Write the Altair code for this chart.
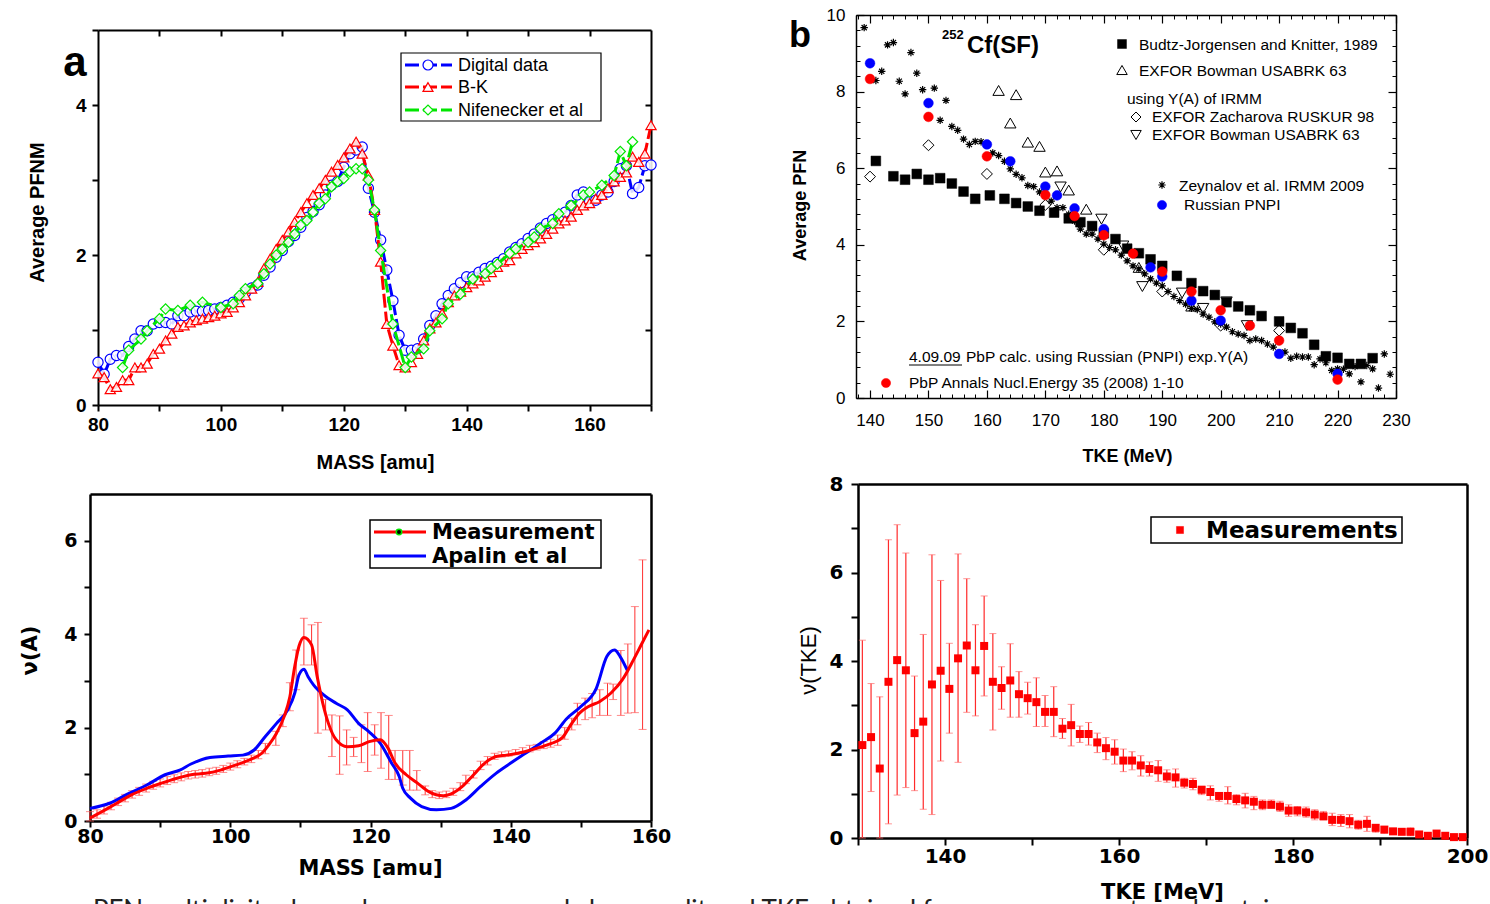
import altair as alt
import pandas as pd

W, H = 1490, 904
ARIAL = "Liberation Sans"
WIDE = "DejaVu Sans"
BLUE, RED, GREEN = "#0000ff", "#ff0000", "#00e600"

# ---------------- (a) average PFNM vs mass ----------------
a_dig_mass = list(range(80, 171))
a_dig_nu = [0.57, 0.41, 0.61, 0.66, 0.66, 0.78, 0.88, 0.99, 0.99, 1.08,
            1.10, 1.10, 1.08, 1.19, 1.19, 1.24, 1.25, 1.25, 1.26, 1.28,
            1.30, 1.33, 1.37, 1.42, 1.50, 1.56, 1.60, 1.73, 1.84, 1.97,
            2.06, 2.18, 2.26, 2.37, 2.50, 2.58, 2.67, 2.80, 2.93, 2.98,
            3.17, 3.35, 3.40, 3.44, 2.89, 2.57, 2.20, 1.80, 1.39, 0.93,
            0.73, 0.73, 0.75, 0.88, 1.06, 1.19, 1.35, 1.46, 1.55, 1.63,
            1.71, 1.71, 1.77, 1.82, 1.85, 1.90, 1.95, 2.04, 2.10, 2.15,
            2.22, 2.28, 2.36, 2.42, 2.47, 2.51, 2.57, 2.66, 2.80, 2.84,
            2.71, 2.73, 2.80, 2.84, 2.98, 3.15, 3.19, 2.82, 2.90, 3.19,
            3.20]
a_bk_mass = list(range(80, 171))
a_bk_nu = [0.42, 0.37, 0.21, 0.24, 0.33, 0.33, 0.50, 0.50, 0.55, 0.68,
           0.75, 0.86, 0.95, 1.04, 1.06, 1.10, 1.13, 1.15, 1.17, 1.19,
           1.22, 1.24, 1.30, 1.37, 1.46, 1.55, 1.64, 1.82, 1.95, 2.08,
           2.20, 2.31, 2.44, 2.57, 2.69, 2.80, 2.89, 3.00, 3.11, 3.20,
           3.30, 3.42, 3.51, 3.35, 3.06, 2.60, 1.91, 1.08, 0.79, 0.53,
           0.50, 0.57, 0.68, 0.86, 1.02, 1.10, 1.22, 1.37, 1.46, 1.51,
           1.57, 1.62, 1.66, 1.71, 1.77, 1.84, 1.91, 1.93, 2.02, 2.08,
           2.13, 2.17, 2.22, 2.28, 2.35, 2.42, 2.46, 2.51, 2.60, 2.66,
           2.69, 2.75, 2.80, 2.89, 2.98, 3.04, 3.10, 3.31, 3.24, 3.35,
           3.73]
a_nif_mass = [84, 85, 87, 88, 90, 91, 93, 95, 97, 100, 102, 103, 104, 106, 107, 108,
              109, 110, 111, 112, 113, 114, 115, 116, 117, 118, 119, 120, 121, 122,
              123, 124, 125, 126, 128, 130, 131, 133, 134, 136, 137, 139, 141, 143,
              144, 145, 147, 148, 150, 151, 152, 154, 155, 157, 159, 160, 162, 164,
              165, 166, 167]
a_nif_nu = [0.50, 0.73, 0.88, 0.99, 1.15, 1.28, 1.26, 1.33, 1.37, 1.30, 1.35, 1.46,
            1.55, 1.62, 1.75, 1.88, 2.00, 2.08, 2.17, 2.28, 2.40, 2.46, 2.57, 2.69,
            2.75, 2.91, 2.98, 3.02, 3.11, 3.15, 3.15, 3.00, 2.60, 2.06, 1.08, 0.50,
            0.64, 0.75, 0.99, 1.15, 1.35, 1.48, 1.68, 1.75, 1.82, 1.88, 2.02, 2.08,
            2.17, 2.24, 2.35, 2.42, 2.55, 2.66, 2.80, 2.84, 2.93, 3.06, 3.38, 3.19,
            3.51]

# ---------------- (b) average PFN vs TKE ----------------
b_bj_tke = [141, 144, 146, 148, 150, 152, 154, 156, 158, 160.5, 163, 165, 167, 169,
            171.5, 174, 176, 178, 180, 182, 184, 186, 188, 190, 192.5, 195, 197, 199,
            201, 203, 205, 207, 210, 212, 214, 216, 218, 220, 222, 224, 226]
b_bj_pfn = [6.19, 5.79, 5.70, 5.85, 5.70, 5.74, 5.60, 5.39, 5.20, 5.29, 5.20, 5.09,
            5.00, 4.89, 4.84, 4.69, 4.59, 4.49, 4.30, 4.15, 3.90, 3.78, 3.62, 3.45,
            3.19, 3.00, 2.79, 2.69, 2.50, 2.39, 2.29, 2.14, 2.00, 1.83, 1.69, 1.39,
            1.09, 1.05, 0.89, 0.89, 1.04]
b_bow_tke = [162, 165, 164, 167, 169, 170, 172, 174, 177, 186, 195]
b_bow_pfn = [8.03, 7.92, 7.18, 6.68, 6.57, 5.90, 5.93, 5.43, 4.93, 3.41, 2.40]
b_zach_tke = [140, 150, 160, 170, 180, 190, 200, 210]
b_zach_pfn = [5.78, 6.60, 5.85, 5.04, 3.87, 2.78, 1.89, 1.76]
b_bowy_tke = [172.6, 179.6, 183.3, 186.6, 193.4, 197, 201, 204.5]
b_bowy_pfn = [5.51, 4.67, 3.97, 2.91, 2.74, 2.34, 2.51, 1.89]
b_zey_tke = [139, 141, 142, 143, 144, 145, 146, 147, 148, 149,
             151, 152, 153, 154, 155, 156, 157, 158, 159,
             161, 162, 163, 164, 165, 166, 167, 168, 169, 170,
             171, 172, 173, 174, 175, 176, 177, 178, 179, 180,
             181, 182, 183, 184, 185, 186, 187, 188, 189, 190,
             191, 192, 193, 194, 195, 196, 197, 198, 199, 200,
             201, 202, 203, 204, 205, 206, 207, 208, 209,
             211, 212, 213, 214, 215, 216, 217, 218, 219, 220,
             221, 222, 223, 224, 225, 226, 227, 228, 229]
b_zey_pfn = [9.67, 8.29, 8.53, 9.22, 9.28, 8.27, 7.94, 9.02, 8.48, 8.05,
             8.09, 7.25, 7.77, 7.09, 6.99, 6.76, 6.62, 6.70, 6.69,
             6.40, 6.33, 6.18, 5.98, 5.84, 5.75, 5.55, 5.52, 5.38, 5.27,
             5.14, 4.97, 4.97, 4.80, 4.62, 4.41, 4.28, 4.28, 4.15, 4.02,
             3.93, 3.87, 3.73, 3.58, 3.45, 3.37, 3.24, 3.11, 3.00, 2.93,
             2.78, 2.65, 2.54, 2.45, 2.34, 2.31, 2.19, 2.11, 1.99, 1.93,
             1.85, 1.73, 1.67, 1.63, 1.50, 1.54, 1.50, 1.41, 1.33,
             1.20, 1.04, 1.09, 1.07, 1.07, 0.87, 1.02, 0.92, 0.72, 0.76,
             0.75, 0.63, 0.82, 0.42, 0.85, 0.76, 0.26, 1.15, 0.62]
b_pnpi_tke = [140, 150, 160, 164, 170, 172, 175, 180, 188, 190, 195, 200, 210, 220]
b_pnpi_pfn = [8.74, 7.70, 6.62, 6.18, 5.52, 5.29, 4.95, 4.41, 3.41, 3.17, 2.54, 2.02, 1.15, 0.63]
b_pbp_tke = [140, 150, 160, 170, 175, 180, 185, 190, 195, 200, 205, 210, 220]
b_pbp_pfn = [8.33, 7.34, 6.31, 5.30, 4.75, 4.25, 3.77, 3.30, 2.78, 2.29, 1.89, 1.50, 0.48]

# ---------------- (c) nu(A) ----------------
c_meas_mass = [80, 81.7, 83.8, 85.9, 88.1, 90.2, 92.3, 94.4, 96.5, 98.6, 100.8, 102.9,
               104.5, 105.5, 106.6, 107.7, 108.5, 109.2, 109.8, 110.5, 111.6, 112.4,
               113.2, 114, 115.1, 116.7, 118.3, 119.8, 121.4, 122.5, 123.5, 125.1,
               126.7, 128.3, 130.4, 131.5, 133.1, 134.7, 136.3, 137.9, 139.4, 141,
               142.6, 144.2, 145.8, 147.4, 148.4, 149.8, 151.1, 152.7, 154.3, 155.9,
               157.5, 158.5, 159.7]
c_meas_nu = [0.06, 0.2, 0.38, 0.56, 0.7, 0.81, 0.91, 0.99, 1.02, 1.09, 1.2, 1.32, 1.45,
             1.63, 1.88, 2.24, 2.66, 3.31, 3.74, 3.93, 3.77, 3.09, 2.52, 2.09, 1.74,
             1.59, 1.61, 1.7, 1.74, 1.56, 1.24, 0.99, 0.81, 0.63, 0.54, 0.58, 0.74,
             0.99, 1.24, 1.38, 1.41, 1.45, 1.51, 1.58, 1.66, 1.79, 2.02, 2.31, 2.45,
             2.56, 2.74, 3.02, 3.45, 3.74, 4.09]
c_err_mass = [80, 81, 82, 83, 84, 85, 86, 87, 88, 89, 90, 91, 92, 93, 94, 95, 96, 97, 98,
              99, 100, 101, 102, 103, 104, 105, 106.5, 107.5, 108.5, 109.4, 110.5, 111.6,
              112.5, 113.6, 114.5, 115.6, 116.6, 117.6, 118.7, 119.6, 120.6, 121.5, 122.6,
              123.5, 124.6, 125.6, 126.6, 127.8, 128.8, 129.8, 130.8, 131.8, 132.8, 133.6,
              134.7, 135.7, 136.7, 137.7, 138.7, 139.7, 140.7, 141.7, 142.7, 143.7, 144.7,
              145.7, 146.7, 147.7, 148.7, 149.5, 150.6, 151.6, 152.7, 153.8, 154.6, 155.7,
              156.7, 157.7, 158.8]
c_err_lo = [0.00, 0.06, 0.15, 0.24, 0.33, 0.41, 0.49, 0.55, 0.62, 0.68, 0.73, 0.78, 0.82,
            0.86, 0.90, 0.92, 0.94, 0.97, 1.00, 1.04, 1.09, 1.14, 1.20, 1.25, 1.33, 1.44,
            1.62, 2.02, 2.36, 2.81, 3.34, 3.34, 1.88, 1.95, 1.38, 1.00, 1.20, 1.38, 1.25,
            1.06, 1.41, 1.13, 0.89, 0.89, 0.77, 0.66, 0.66, 0.56, 0.50, 0.48, 0.50, 0.55,
            0.65, 0.80, 0.92, 1.10, 1.20, 1.32, 1.37, 1.39, 1.42, 1.45, 1.48, 1.52, 1.55,
            1.58, 1.62, 1.75, 1.95, 2.06, 2.17, 2.21, 2.26, 2.26, 2.60, 2.26, 2.31, 2.32,
            1.96]
c_err_hi = [0.20, 0.24, 0.32, 0.40, 0.49, 0.57, 0.65, 0.72, 0.79, 0.85, 0.90, 0.95, 0.99,
            1.03, 1.06, 1.08, 1.10, 1.13, 1.15, 1.19, 1.24, 1.29, 1.34, 1.41, 1.51, 1.66,
            1.92, 2.27, 2.96, 3.66, 4.34, 4.20, 4.25, 2.60, 2.27, 2.25, 1.95, 1.79, 2.06,
            2.32, 2.06, 2.32, 2.26, 1.51, 1.51, 1.51, 1.08, 0.75, 0.65, 0.62, 0.64, 0.70,
            0.82, 0.98, 1.08, 1.28, 1.38, 1.45, 1.48, 1.50, 1.53, 1.57, 1.62, 1.64, 1.70,
            1.75, 1.84, 2.00, 2.20, 2.52, 2.63, 2.73, 2.81, 2.95, 2.93, 3.65, 3.79, 4.59,
            5.59]
c_ap_mass = [80, 82.8, 85.4, 88.1, 90.7, 92.8, 94.4, 97.1, 99.7, 101.8, 103.4, 105, 106.6,
             108.2, 109.2, 109.8, 110.5, 111.1, 111.9, 113.5, 115.1, 116.7, 118.3, 119.8,
             121.4, 123, 124.1, 124.6, 125.7, 127.3, 129.4, 131.5, 133.6, 135.7, 137.9,
             140, 142.1, 144.2, 146.3, 147.9, 150, 152.2, 153.7, 154.8, 155.6, 156.7]
c_ap_nu = [0.27, 0.38, 0.58, 0.77, 0.99, 1.09, 1.22, 1.36, 1.39, 1.41, 1.52, 1.81, 2.09,
           2.38, 2.74, 3.13, 3.25, 3.09, 2.91, 2.68, 2.52, 2.38, 2.09, 1.91, 1.66, 1.24,
           0.95, 0.70, 0.49, 0.31, 0.24, 0.27, 0.45, 0.74, 1.02, 1.24, 1.45, 1.66, 1.88,
           2.18, 2.45, 2.84, 3.52, 3.66, 3.52, 3.20]

# ---------------- (d) nu(TKE) ----------------
d_tke = [130.5, 131.5, 132.5, 133.5, 134.5, 135.5, 136.5, 137.5, 138.5, 139.5,
         140.5, 141.5, 142.5, 143.5, 144.5, 145.5, 146.5, 147.5, 148.5, 149.5,
         150.5, 151.5, 152.5, 153.5, 154.5, 155.5, 156.5, 157.5, 158.5, 159.5,
         160.5, 161.5, 162.5, 163.5, 164.5, 165.5, 166.5, 167.5, 168.5, 169.5,
         170.5, 171.5, 172.5, 173.5, 174.5, 175.5, 176.5, 177.5, 178.5, 179.5,
         180.5, 181.5, 182.5, 183.5, 184.5, 185.5, 186.5, 187.5, 188.5, 189.5,
         190.5, 191.5, 192.5, 193.5, 194.5, 195.5, 196.5, 197.5, 198.5, 199.5]
d_nu = [2.10, 2.28, 1.57, 3.53, 4.02, 3.79, 2.37, 2.63, 3.47, 3.78,
        3.37, 4.06, 4.35, 3.79, 4.34, 3.53, 3.39, 3.56, 3.25, 3.16,
        3.07, 2.85, 2.85, 2.47, 2.55, 2.35, 2.35, 2.16, 2.03, 1.95,
        1.75, 1.75, 1.64, 1.56, 1.53, 1.39, 1.37, 1.25, 1.22, 1.09,
        1.04, 0.95, 0.95, 0.88, 0.85, 0.82, 0.75, 0.75, 0.71, 0.62,
        0.62, 0.58, 0.53, 0.49, 0.41, 0.41, 0.38, 0.30, 0.32, 0.23,
        0.19, 0.15, 0.14, 0.14, 0.08, 0.05, 0.10, 0.05, 0.02, 0.02]
d_lo = [0.00, 1.05, 0.00, 0.32, 0.97, 1.14, 1.07, 0.65, 0.53, 1.74,
        2.37, 1.71, 2.84, 2.76, 3.21, 2.44, 2.91, 2.73, 2.73, 2.80,
        2.52, 2.52, 2.29, 2.25, 2.08, 2.16, 2.10, 1.93, 1.77, 1.67,
        1.50, 1.54, 1.40, 1.40, 1.28, 1.26, 1.15, 1.13, 1.09, 0.98,
        0.86, 0.83, 0.77, 0.75, 0.68, 0.64, 0.64, 0.68, 0.60, 0.49,
        0.50, 0.47, 0.41, 0.41, 0.28, 0.26, 0.23, 0.20, 0.15, 0.13,
        0.11, 0.09, 0.09, 0.05, 0.02, 0.00, 0.04, 0.00, 0.00, 0.00]
d_hi = [4.47, 3.49, 3.19, 6.74, 7.08, 6.44, 3.66, 4.60, 6.40, 5.82,
        4.40, 6.42, 5.86, 4.82, 5.47, 4.62, 3.87, 4.39, 3.76, 3.52,
        3.62, 3.22, 3.42, 2.70, 3.02, 2.53, 2.61, 2.37, 2.27, 2.22,
        2.01, 1.95, 1.86, 1.72, 1.75, 1.54, 1.56, 1.35, 1.35, 1.17,
        1.18, 1.01, 1.16, 0.98, 1.01, 0.94, 0.86, 0.86, 0.83, 0.75,
        0.71, 0.70, 0.64, 0.60, 0.56, 0.53, 0.53, 0.40, 0.49, 0.30,
        0.26, 0.20, 0.19, 0.23, 0.13, 0.10, 0.17, 0.11, 0.05, 0.04]

# ---------------- layout of the four panels (pixel ranges) ----------------
PAN = {
    "a": dict(xd=[80, 170], yd=[0, 5], xr=[98, 651], yr=[405, 30]),
    "b": dict(xd=[137.6, 230], yd=[0, 10], xr=[856, 1396], yr=[398, 15]),
    "c": dict(xd=[80, 160], yd=[0, 7], xr=[90, 651], yr=[821, 494]),
    "d": dict(xd=[130, 200], yd=[0, 8], xr=[858, 1467], yr=[838, 484]),
}


def xs(p):
    P = PAN[p]
    return alt.Scale(domain=P["xd"], range=P["xr"], nice=False, zero=False)


def ys(p):
    P = PAN[p]
    return alt.Scale(domain=P["yd"], range=P["yr"], nice=False, zero=False)


def XQ(f, p):
    return alt.X(f, type="quantitative", scale=xs(p), axis=None)


def YQ(f, p):
    return alt.Y(f, type="quantitative", scale=ys(p), axis=None)


EVEN20 = "datum.value % 20 == 0 ? datum.label : ''"
EVEN2 = "datum.value % 2 == 0 ? datum.label : ''"


def axis(orient, pos, values=None, tick=0, tickw=1.0, labels=False, domain=False,
         domw=1.0, lfont=ARIAL, lsize=17, lweight="normal", lpad=4, lexpr=None,
         title=None, tpos=(0, 0), tfont=ARIAL, tsize=18, tweight="bold"):
    if orient == "bottom":
        off = pos - H
    elif orient in ("top", "left"):
        off = -pos
    else:
        off = pos - W
    kw = dict(orient=orient, offset=off, grid=False, domain=domain,
              ticks=tick > 0, tickSize=tick, tickWidth=tickw, tickColor="black",
              domainColor="black", domainWidth=domw, labels=labels,
              labelFont=lfont, labelFontSize=lsize, labelFontWeight=lweight,
              labelColor="black", labelPadding=lpad, labelFlush=False,
              labelOverlap=False)
    if values is not None:
        kw["values"] = values
    if lexpr:
        kw["labelExpr"] = lexpr
    if title:
        if orient in ("bottom", "top"):
            tx, ty, ang = tpos[0], tpos[1] - pos, 0
        else:
            tx, ty, ang = tpos[0] - pos, tpos[1], 270
        kw.update(title=title, titleX=tx, titleY=ty, titleAngle=ang,
                  titleAlign="center", titleBaseline="middle", titleFont=tfont,
                  titleFontSize=tsize, titleFontWeight=tweight, titleColor="black")
    else:
        kw["title"] = None
    return alt.Axis(**kw)


def frame(p, xaxis, yaxis):
    P = PAN[p]
    d = pd.DataFrame({"fx": P["xd"], "fy": P["yd"]})
    return alt.Chart(d).mark_point(opacity=0).encode(
        x=alt.X("fx:Q", scale=xs(p), axis=xaxis),
        y=alt.Y("fy:Q", scale=ys(p), axis=yaxis))


ONE = pd.DataFrame({"k": [0]})


def txt(s, x, y, size=15.5, weight="normal", font=ARIAL, align="left",
        baseline="middle", angle=0, color="black"):
    return alt.Chart(ONE).mark_text(
        text=s, fontSize=size, fontWeight=weight, font=font, align=align,
        baseline=baseline, angle=angle, color=color).encode(
        x=alt.value(x), y=alt.value(y))


def glyph(x, y, shape, size, fill, stroke, sw=1.0):
    return alt.Chart(ONE).mark_point(
        shape=shape, size=size, fill=fill, stroke=stroke, strokeWidth=sw,
        filled=False, fillOpacity=1, opacity=1).encode(x=alt.value(x), y=alt.value(y))


def hline(x1, x2, y, color, width, dash=None):
    kw = dict(color=color, strokeWidth=width)
    if dash:
        kw["strokeDash"] = dash
    return alt.Chart(ONE).mark_rule(**kw).encode(
        x=alt.value(x1), x2=alt.value(x2), y=alt.value(y))


def box(x1, y1, x2, y2, sw=1.2):
    return alt.Chart(ONE).mark_rect(fill="white", stroke="black", strokeWidth=sw).encode(
        x=alt.value(x1), x2=alt.value(x2), y=alt.value(y1), y2=alt.value(y2))


ASTER = "M-1,0L1,0M0,-1L0,1M-0.7,-0.7L0.7,0.7M-0.7,0.7L0.7,-0.7"
layers = []

# ================= panel a =================
layers += [
    frame("a",
          axis("bottom", 405, list(range(80, 171, 10)), tick=6, tickw=2, labels=True,
               domain=True, domw=2, lsize=19, lweight="bold", lpad=4, lexpr=EVEN20,
               title="MASS [amu]", tpos=(375, 462), tsize=20),
          axis("left", 98, [0, 1, 2, 3, 4, 5], tick=6, tickw=2, labels=True, domain=True,
               domw=2, lsize=19, lweight="bold", lpad=6, lexpr=EVEN2,
               title="Average PFNM", tpos=(37, 212), tsize=20)),
    frame("a",
          axis("bottom", 30, list(range(90, 170, 10)), tick=6, tickw=2, domain=True, domw=2),
          axis("left", 651, [1, 2, 3, 4], tick=6, tickw=2, domain=True, domw=2)),
]


def a_series(mass, nu, color, shape):
    d = pd.DataFrame({"A": mass, "nu": nu})
    base = alt.Chart(d).encode(x=XQ("A", "a"), y=YQ("nu", "a"))
    return [base.mark_line(color=color, strokeWidth=3, strokeDash=[14, 4]),
            base.mark_point(shape=shape, size=105, fill="white", stroke=color,
                            strokeWidth=1.2, filled=False, fillOpacity=0.85, opacity=1)]


layers += a_series(a_dig_mass, a_dig_nu, BLUE, "circle")
layers += a_series(a_bk_mass, a_bk_nu, RED, "triangle-up")
layers += a_series(a_nif_mass, a_nif_nu, GREEN, "diamond")

layers += [
    box(401, 53, 601, 121),
    hline(405, 452, 65, BLUE, 3, [14, 4]), glyph(428, 65, "circle", 100, "white", BLUE, 1.2),
    hline(405, 452, 87, RED, 3, [14, 4]), glyph(428, 87, "triangle-up", 100, "white", RED, 1.2),
    hline(405, 452, 110, GREEN, 3, [14, 4]), glyph(428, 110, "diamond", 100, "white", GREEN, 1.2),
    txt("Digital data", 458, 66, size=18),
    txt("B-K", 458, 88, size=18),
    txt("Nifenecker et al", 458, 111, size=18),
    txt("a", 75, 76, size=42, weight="bold", align="center", baseline="alphabetic"),
]

# ================= panel b =================
BXM = list(range(140, 231, 10))
BXm = list(range(138, 231, 2))
BYM = list(range(0, 11, 2))
BYm = [round(i * 0.4, 1) for i in range(26)]
layers += [
    frame("b",
          axis("bottom", 398, BXM, labels=True, domain=True, domw=1.5, lsize=17, lpad=14,
               title="TKE (MeV)", tpos=(1127, 456), tsize=18),
          axis("left", 856, BYM, labels=True, domain=True, domw=1.5, lsize=17, lpad=11,
               title="Average PFN", tpos=(800, 205), tsize=18)),
    frame("b", axis("top", 398, BXM, tick=8, tickw=1.2), axis("right", 856, BYM, tick=8, tickw=1.2)),
    frame("b", axis("top", 398, BXm, tick=4), axis("right", 856, BYm, tick=4)),
    frame("b", axis("bottom", 15, BXM, tick=8, tickw=1.2, domain=True, domw=1.5),
          axis("left", 1396, BYM, tick=8, tickw=1.2, domain=True, domw=1.5)),
    frame("b", axis("bottom", 15, BXm, tick=4), axis("left", 1396, BYm, tick=4)),
]


def b_pts(tke, pfn, shape, size, fill, stroke, sw=1.0):
    d = pd.DataFrame({"T": tke, "P": pfn})
    return alt.Chart(d).mark_point(shape=shape, size=size, fill=fill, stroke=stroke,
                                   strokeWidth=sw, filled=False, fillOpacity=1,
                                   opacity=1).encode(x=XQ("T", "b"), y=YQ("P", "b"))


layers += [
    b_pts(b_zey_tke, b_zey_pfn, ASTER, 55, "none", "black", 1.2),
    b_pts(b_bj_tke, b_bj_pfn, "square", 95, "black", "black", 0.5),
    b_pts(b_bow_tke, b_bow_pfn, "triangle-up", 130, "none", "black", 1.0),
    b_pts(b_zach_tke, b_zach_pfn, "diamond", 120, "none", "black", 1.0),
    b_pts(b_bowy_tke, b_bowy_pfn, "triangle-down", 130, "none", "black", 1.0),
    b_pts(b_pnpi_tke, b_pnpi_pfn, "circle", 95, BLUE, BLUE, 0.5),
    b_pts(b_pbp_tke, b_pbp_pfn, "circle", 95, RED, RED, 0.5),
]

layers += [
    txt("b", 800, 47, size=36, weight="bold", align="center", baseline="alphabetic"),
    txt("252", 942, 39, size=13, weight="bold", baseline="alphabetic"),
    txt("Cf(SF)", 967, 53, size=24, weight="bold", baseline="alphabetic"),
    glyph(1122, 44, "square", 80, "black", "black", 0.5),
    txt("Budtz-Jorgensen and Knitter, 1989", 1139, 45),
    glyph(1122, 70, "triangle-up", 110, "none", "black"),
    txt("EXFOR Bowman USABRK 63", 1139, 71),
    txt("using Y(A) of IRMM", 1127, 99),
    glyph(1136, 117, "diamond", 100, "none", "black"),
    txt("EXFOR Zacharova RUSKUR 98", 1152, 117),
    glyph(1136, 135, "triangle-down", 110, "none", "black"),
    txt("EXFOR Bowman USABRK 63", 1152, 135),
    glyph(1162, 185, ASTER, 55, "none", "black", 1.2),
    txt("Zeynalov et al. IRMM 2009", 1179, 186),
    glyph(1162, 205, "circle", 85, BLUE, BLUE, 0.5),
    txt("Russian PNPI", 1184, 205),
    txt("4.09.09", 909, 357),
    hline(909, 962, 365, "black", 1),
    txt("PbP calc. using Russian (PNPI) exp.Y(A)", 966, 357),
    glyph(886, 383, "circle", 85, RED, RED, 0.5),
    txt("PbP Annals Nucl.Energy 35 (2008) 1-10", 909, 383),
]

# ================= panel c =================
layers += [
    frame("c",
          axis("bottom", 821, list(range(80, 161, 10)), tick=6, tickw=2, labels=True,
               domain=True, domw=2.5, lfont=WIDE, lsize=19, lweight="bold", lpad=0,
               lexpr=EVEN20, title="MASS [amu]", tpos=(370, 868), tfont=WIDE, tsize=21),
          axis("left", 90, list(range(0, 7)), tick=6, tickw=2, labels=True, domain=True,
               domw=2.5, lfont=WIDE, lsize=19, lweight="bold", lpad=7, lexpr=EVEN2,
               title="ν(A)", tpos=(30, 650), tfont=WIDE, tsize=21)),
    frame("c", axis("top", 494, domain=True, domw=2.5), axis("right", 651, domain=True, domw=2.5)),
]
ce = pd.DataFrame({"A": c_err_mass, "lo": c_err_lo, "hi": c_err_hi})
ceb = alt.Chart(ce).encode(x=XQ("A", "c"))
layers += [
    ceb.mark_rule(color="#ff3030", strokeWidth=1).encode(y=YQ("lo", "c"), y2="hi"),
    ceb.mark_tick(orient="horizontal", size=8, thickness=1, color="#ff5a5a").encode(y=YQ("lo", "c")),
    ceb.mark_tick(orient="horizontal", size=8, thickness=1, color="#ff5a5a").encode(y=YQ("hi", "c")),
]
cm = pd.DataFrame({"A": c_meas_mass, "nu": c_meas_nu})
ca = pd.DataFrame({"A": c_ap_mass, "nu": c_ap_nu})
layers += [
    alt.Chart(ca).mark_line(color=BLUE, strokeWidth=3, interpolate="monotone").encode(
        x=XQ("A", "c"), y=YQ("nu", "c")),
    alt.Chart(cm).mark_line(color=RED, strokeWidth=3, interpolate="monotone").encode(
        x=XQ("A", "c"), y=YQ("nu", "c")),
]
layers += [
    box(370, 520, 601, 568, 1.5),
    hline(374, 426, 532, RED, 3),
    glyph(399, 532, "circle", 30, "black", GREEN, 1.5),
    hline(374, 426, 556, BLUE, 3),
    txt("Measurement", 432, 533, size=21, weight="bold", font=WIDE),
    txt("Apalin et al", 432, 557, size=21, weight="bold", font=WIDE),
]

# ================= panel d =================
layers += [
    frame("d",
          axis("bottom", 838, list(range(130, 201, 10)), tick=7, tickw=2, labels=True,
               domain=True, domw=2.5, lfont=WIDE, lsize=20, lweight="bold", lpad=1,
               lexpr=EVEN20, title="TKE [MeV]", tpos=(1162, 892), tfont=WIDE, tsize=21),
          axis("left", 858, list(range(0, 9)), tick=7, tickw=2, labels=True, domain=True,
               domw=2.5, lfont=WIDE, lsize=20, lweight="bold", lpad=8, lexpr=EVEN2,
               title="ν(TKE)", tpos=(808, 660), tfont=ARIAL, tsize=22, tweight="normal")),
    frame("d", axis("top", 484, domain=True, domw=2.5), axis("right", 1467, domain=True, domw=2.5)),
]
de = pd.DataFrame({"T": d_tke, "nu": d_nu, "lo": d_lo, "hi": d_hi})
deb = alt.Chart(de).encode(x=XQ("T", "d"))
layers += [
    deb.mark_rule(color="#ff2a2a", strokeWidth=1.2).encode(y=YQ("lo", "d"), y2="hi"),
    deb.mark_tick(orient="horizontal", size=7, thickness=1, color="#ff6a6a").encode(y=YQ("lo", "d")),
    deb.mark_tick(orient="horizontal", size=7, thickness=1, color="#ff6a6a").encode(y=YQ("hi", "d")),
    deb.mark_square(size=64, color=RED, opacity=1).encode(y=YQ("nu", "d")),
]
layers += [
    box(1151, 517, 1402, 543, 1.5),
    glyph(1180, 530, "square", 50, RED, RED, 0.5),
    txt("Measurements", 1206, 531, size=23, weight="bold", font=WIDE),
]

# ================= clipped caption line at the bottom =================
layers += [
    txt("PFN multiplicity dependence on mass and charge split and TKE obtained from measurements and certain",
        93, 919, size=26, font="Lato", baseline="alphabetic", color="#222222"),
]

chart = alt.layer(*layers).resolve_scale(x="independent", y="independent").properties(
    width=W, height=H, padding=0, autosize=alt.AutoSizeParams(type="none"),
    background="white").configure_view(stroke=None)

chart.save("out.html", embed_options={"renderer": "svg", "actions": False})
